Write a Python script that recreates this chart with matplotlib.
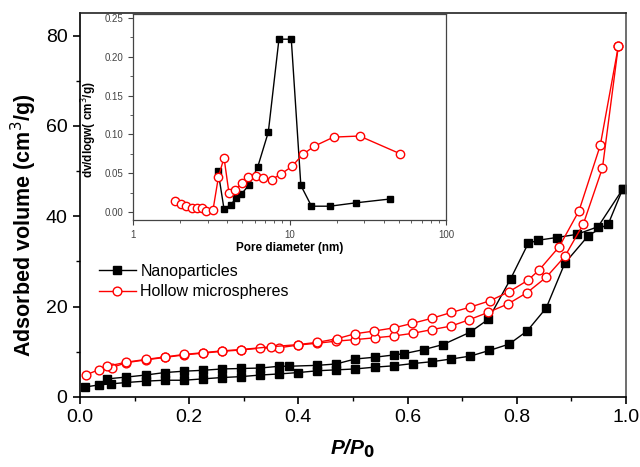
import matplotlib
matplotlib.use("Agg")
import matplotlib.pyplot as plt
from matplotlib.ticker import MultipleLocator, LogLocator, NullFormatter, FixedLocator

plt.rcParams['font.family'] = ['Liberation Sans', 'DejaVu Sans']

# ---- Main isotherm data ----
np_ads_x = [0.009, 0.034, 0.057, 0.085, 0.12, 0.155, 0.19, 0.225, 0.26, 0.295, 0.33, 0.365, 0.40, 0.435,
            0.469, 0.504, 0.54, 0.575, 0.61, 0.644, 0.68, 0.715, 0.75, 0.786, 0.819, 0.854, 0.888, 0.931,
            0.968, 0.994]
np_ads_y = [2.2, 2.65, 2.9, 3.2, 3.5, 3.7, 3.7, 4.0, 4.3, 4.5, 4.85, 5.1, 5.4, 5.8,
            6.0, 6.2, 6.6, 6.9, 7.4, 7.8, 8.4, 9.05, 10.3, 11.7, 14.6, 19.7, 29.6, 35.7,
            38.4, 46.0]
np_des_x = [0.994, 0.949, 0.91, 0.873, 0.839, 0.821, 0.789, 0.748, 0.714, 0.665, 0.63, 0.594, 0.575,
            0.54, 0.504, 0.469, 0.435, 0.383, 0.365, 0.33, 0.295, 0.26, 0.225, 0.19, 0.155, 0.12,
            0.085, 0.049]
np_des_y = [46.0, 37.7, 36.0, 35.3, 34.7, 34.0, 26.2, 17.2, 14.3, 11.6, 10.5, 9.6, 9.3,
            8.8, 8.4, 7.3, 7.0, 6.8, 6.8, 6.4, 6.3, 6.2, 5.9, 5.7, 5.4, 4.85,
            4.4, 4.0]

hm_ads_x = [0.011, 0.034, 0.058, 0.085, 0.12, 0.155, 0.19, 0.225, 0.26, 0.295, 0.33, 0.365, 0.40, 0.435,
            0.469, 0.504, 0.54, 0.575, 0.61, 0.644, 0.68, 0.713, 0.747, 0.784, 0.819, 0.854, 0.888,
            0.922, 0.957, 0.986]
hm_ads_y = [4.9, 6.0, 6.5, 7.6, 8.2, 8.75, 9.3, 9.7, 10.1, 10.4, 10.8, 10.9, 11.5, 11.9,
            12.35, 12.7, 13.1, 13.5, 14.1, 14.9, 15.7, 17.1, 18.7, 20.6, 23.1, 26.5, 31.1,
            38.3, 50.7, 77.6]
hm_des_x = [0.986, 0.953, 0.914, 0.878, 0.841, 0.82, 0.786, 0.751, 0.715, 0.68, 0.644, 0.609, 0.575,
            0.539, 0.504, 0.471, 0.435, 0.40, 0.349, 0.295, 0.26, 0.225, 0.19, 0.155, 0.12, 0.085, 0.05]
hm_des_y = [77.6, 55.7, 41.2, 33.3, 28.1, 25.8, 23.3, 21.3, 19.9, 18.7, 17.4, 16.3, 15.3,
            14.6, 14.0, 12.9, 12.1, 11.6, 11.1, 10.5, 10.2, 9.8, 9.4, 8.85, 8.3, 7.7, 6.8]

# ---- Inset pore size distribution ----
np_pore_d = [3.49, 3.81, 4.2, 4.57, 4.91, 5.5, 6.25, 7.31, 8.55, 10.25, 11.8, 13.8, 18.1, 26.4, 44.0]
np_pore_v = [0.053, 0.004, 0.0098, 0.018, 0.023, 0.035, 0.058, 0.103, 0.2226, 0.2226, 0.0345,
             0.0077, 0.0077, 0.012, 0.017]
hm_pore_d = [1.85, 2.01, 2.19, 2.38, 2.57, 2.74, 2.91, 3.24, 3.51, 3.81, 4.10, 4.48, 4.94, 5.42,
             6.06, 6.76, 7.68, 8.81, 10.35, 12.17, 14.4, 19.1, 28.0, 51.1]
hm_pore_v = [0.0149, 0.0106, 0.0077, 0.0055, 0.005, 0.006, 0.002, 0.003, 0.0455, 0.070, 0.0243,
             0.029, 0.0374, 0.0447, 0.046, 0.0438, 0.042, 0.049, 0.059, 0.0745, 0.085, 0.0966,
             0.098, 0.075]

labels = ["Nanoparticles", "Hollow microspheres"]

fig = plt.figure(figsize=(6.4, 4.67), dpi=100)
ax = fig.add_axes([0.125, 0.150, 0.853, 0.822])

blk = dict(color='black', marker='s', markersize=5.3, lw=1.0, markerfacecolor='black',
           markeredgecolor='black')
red = dict(color='red', marker='o', markersize=6.3, lw=1.0, markerfacecolor='white',
           markeredgecolor='red', markeredgewidth=1.0)

ax.plot(np_ads_x, np_ads_y, label=labels[0], **blk)
ax.plot(np_des_x, np_des_y, **blk)
ax.plot(hm_ads_x, hm_ads_y, label=labels[1], **red)
ax.plot(hm_des_x, hm_des_y, **red)

ax.set_xlim(0, 1.0)
ax.set_ylim(0, 85)
ax.xaxis.set_major_locator(MultipleLocator(0.2))
ax.xaxis.set_minor_locator(MultipleLocator(0.1))
ax.yaxis.set_major_locator(MultipleLocator(20))
ax.yaxis.set_minor_locator(MultipleLocator(10))
ax.xaxis.set_major_formatter(plt.FuncFormatter(lambda v, p: f"{v:.1f}"))
ax.tick_params(which='both', direction='out', labelsize=14, top=False, right=False)
ax.tick_params(which='major', length=5, width=1.2, pad=4)
ax.tick_params(which='minor', length=3, width=1.0)
for s in ax.spines.values():
    s.set_linewidth(1.2)
ax.spines['top'].set_color('#222222')
ax.spines['right'].set_color('#555555')
ax.set_xlabel("P/P$_\\mathbf{0}$", fontsize=15, fontweight='bold', style='italic', labelpad=8)
ax.set_ylabel("Adsorbed volume (cm$^3$/g)", fontsize=15.5, fontweight='bold')
ax.yaxis.set_label_coords(-0.076, 0.447)

leg = ax.legend(loc='upper left', bbox_to_anchor=(0.014, 0.376), frameon=False, fontsize=11.5,
                handlelength=2.3, handletextpad=0.3, labelspacing=0.35, borderaxespad=0.3)

# ---- inset ----
ins = fig.add_axes([0.208, 0.529, 0.489, 0.441])
ins.plot(np_pore_d, np_pore_v, color='black', marker='s', markersize=5, lw=1.0)
ins.plot(hm_pore_d, hm_pore_v, color='red', marker='o', markersize=6, lw=1.0,
         markerfacecolor='white', markeredgecolor='red', markeredgewidth=1.0)
ins.set_xscale('log')
ins.set_xlim(1, 100)
ins.set_ylim(-0.01, 0.255)
ins.yaxis.set_major_locator(FixedLocator([0, 0.05, 0.10, 0.15, 0.20, 0.25]))
ins.yaxis.set_minor_locator(MultipleLocator(0.025))
ins.yaxis.set_major_formatter(plt.FuncFormatter(lambda v, p: f"{v:.2f}"))
ins.xaxis.set_major_formatter(plt.FuncFormatter(lambda v, p: f"{v:g}"))
ins.xaxis.set_minor_locator(LogLocator(base=10, subs=range(2, 10)))
ins.xaxis.set_minor_formatter(NullFormatter())
ins.tick_params(which='both', direction='out', labelsize=7, labelcolor='#444444', color='#444444')
ins.tick_params(which='major', length=3.5, width=0.8)
ins.tick_params(which='minor', length=2, width=0.6)
for s in ins.spines.values():
    s.set_linewidth(0.9)
    s.set_color('#444444')
ins.set_xlabel("Pore diameter (nm)", fontsize=8.5, fontweight='bold', labelpad=2)
ins.set_ylabel("dv/dlogw( cm$^3$/g)", fontsize=8.5, fontweight='bold')
ins.yaxis.set_label_coords(-0.108, 0.44)

fig.savefig("out.png", dpi=100)
